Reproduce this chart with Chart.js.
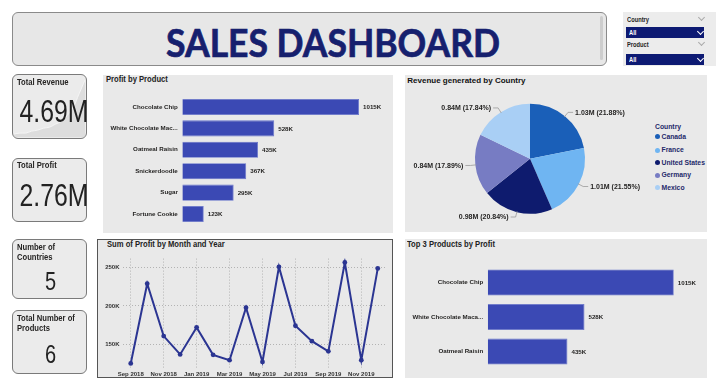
<!DOCTYPE html>
<html>
<head>
<meta charset="utf-8">
<script src="https://cdn.jsdelivr.net/npm/chart.js@4.4.0/dist/chart.umd.min.js"></script>
<style>
body{margin:0;width:720px;height:391px;overflow:hidden;background:#fff;position:relative;font-family:'Liberation Sans',Arial,sans-serif}
.abs{position:absolute;line-height:1;white-space:nowrap}
.nar{font-family:'Liberation Sans',Arial,sans-serif;font-weight:bold;transform:scaleX(0.82);transform-origin:0 0}
.panel{position:absolute;background:#e9e9e9}
.card{position:absolute;left:12px;width:75px;background:#ebebeb;border:1.5px solid #7a7a7a;border-radius:6px;box-sizing:border-box;overflow:hidden}
.ptitle{font-size:9.3px;color:#222}
.ctitle{font-size:9.3px;color:#252423;line-height:10px}
.big{font-family:'Liberation Sans',Arial,sans-serif;color:#222;width:75px;left:12px;text-align:center;transform:scaleX(0.8);transform-origin:50% 0}
.box{position:absolute}
.chev{position:absolute;width:4px;height:4px;border-right:1px solid #aaa;border-bottom:1px solid #aaa;transform:rotate(45deg)}
.bar{position:absolute;left:626px;width:78px;background:#0d1a73}
.leg{position:absolute;left:655px;font-size:6.8px;font-weight:bold;color:#1f2a6b;line-height:1}
.dot{display:inline-block;width:5px;height:5px;border-radius:50%;margin-right:1.5px;vertical-align:-0.5px}
</style>
</head>
<body>
<script>
// data
const products = ['Chocolate Chip', 'White Chocolate Macadamia Nut', 'Oatmeal Raisin', 'Snickerdoodle', 'Sugar', 'Fortune Cookie'];
const profitByProduct = [1015000, 528000, 435000, 367000, 295000, 123000];

const countries = ['Canada', 'France', 'United States', 'Germany', 'Mexico'];
const revenueByCountry = [1026000, 1011000, 977000, 839000, 837000];
const revenueLabels = ['1.03M (21.88%)', '1.01M (21.55%)', '0.98M (20.84%)', '0.84M (17.89%)', '0.84M (17.84%)'];
const countryColors = ['#1a5fb8', '#6fb5f2', '#0e1b6e', '#777cc3', '#a9cff5'];

const months = ['Sep 2018', 'Oct 2018', 'Nov 2018', 'Dec 2018', 'Jan 2019', 'Feb 2019', 'Mar 2019', 'Apr 2019',
  'May 2019', 'Jun 2019', 'Jul 2019', 'Aug 2019', 'Sep 2019', 'Oct 2019', 'Nov 2019', 'Dec 2019'];
const profitByMonth = [124700, 228900, 160500, 136500, 171900, 136000, 129000, 197600,
  126700, 251000, 174000, 153800, 140600, 256700, 129000, 249000];
const profitTicks = [150000, 200000, 250000];

const revenueTrend = [3, 4, 4, 6, 7, 9, 10, 13, 16, 22, 30, 44, 58];

const kpis = [
  {title: 'Total Revenue', value: '4.69M'},
  {title: 'Total Profit', value: '2.76M'},
  {title: 'Number of<br>Countries', value: '5'},
  {title: 'Total Number of<br>Products', value: '6'}
];
</script>

<!-- header -->
<div class="box" style="left:12px;top:12px;width:595px;height:54px;background:#e7e7e7;border:1px solid #8a8a8a;border-radius:6px;box-sizing:border-box"></div>
<div class="box" style="left:600px;top:16px;width:3px;height:44px;background:#cdcdcd;border-radius:2px"></div>
<div class="abs" style="left:12px;width:642px;text-align:center;top:23.4px;font-family:Lato,sans-serif;font-weight:bold;font-size:39px;color:#16206e;-webkit-text-stroke:0.7px #16206e;transform:scaleX(0.91);transform-origin:50% 0">SALES DASHBOARD</div>

<!-- slicers -->
<div class="box" style="left:623px;top:12px;width:93px;height:54px;background:#ececec"></div>
<div class="abs nar" style="left:627px;top:16px;font-size:7px;color:#252423">Country</div>
<div class="chev" style="left:699px;top:15px"></div>
<div class="bar" style="top:27px;height:10.5px"></div>
<div class="abs nar" style="left:629px;top:29.3px;font-size:7px;color:#fff">All</div>
<div class="chev" style="left:698px;top:28.5px;border-color:#fff"></div>
<div class="abs nar" style="left:627px;top:41px;font-size:7px;color:#252423">Product</div>
<div class="chev" style="left:699px;top:40px"></div>
<div class="bar" style="top:53.5px;height:11px"></div>
<div class="abs nar" style="left:629px;top:56.1px;font-size:7px;color:#fff">All</div>
<div class="chev" style="left:698px;top:55.5px;border-color:#fff"></div>

<!-- cards -->
<div class="card" style="top:74px;height:65px"><div style="position:absolute;left:1px;top:1px;width:71px;height:61px"><canvas id="spark"></canvas></div></div>
<div class="card" style="top:158px;height:64px"></div>
<div class="card" style="top:239px;height:60px"></div>
<div class="card" style="top:310px;height:64px"></div>
<div class="abs nar ctitle" id="k0" style="left:16.7px;top:76.8px"></div>
<div class="abs big" id="v0" style="top:96.3px;font-size:31px"></div>
<div class="abs nar ctitle" id="k1" style="left:16.7px;top:160.1px"></div>
<div class="abs big" id="v1" style="top:179.6px;font-size:31px"></div>
<div class="abs nar ctitle" id="k2" style="left:16.7px;top:241.8px"></div>
<div class="abs big" id="v2" style="top:268.8px;font-size:25px;left:13px"></div>
<div class="abs nar ctitle" id="k3" style="left:16.7px;top:312.8px"></div>
<div class="abs big" id="v3" style="top:341.8px;font-size:25px;left:13px"></div>

<!-- panels -->
<div class="panel" style="left:103px;top:75px;width:290px;height:158px"></div>
<div class="panel" style="left:405px;top:75px;width:302px;height:157px"></div>
<div class="panel" style="left:97px;top:239px;width:296px;height:139px;border:1.5px solid #555;box-sizing:border-box"></div>
<div class="panel" style="left:405px;top:239px;width:302px;height:139px"></div>

<div class="abs nar ptitle" style="left:106px;top:75.4px">Profit by Product</div>
<div class="abs ptitle" style="left:407.3px;top:76.5px;font-size:8px;font-weight:bold;color:#111">Revenue generated by Country</div>
<div class="abs nar ptitle" style="left:106.7px;top:240.4px">Sum of Profit by Month and Year</div>
<div class="abs nar ptitle" style="left:407px;top:239.8px">Top 3 Products by Profit</div>

<div class="box" style="left:103px;top:88px;width:290px;height:145px"><canvas id="prodChart"></canvas></div>
<div class="box" style="left:405px;top:256.5px;width:302px;height:120px"><canvas id="topChart"></canvas></div>
<div class="box" style="left:100px;top:252px;width:290px;height:126px"><canvas id="lineChart"></canvas></div>
<div class="box" style="left:405px;top:90px;width:245px;height:140px"><canvas id="pieChart"></canvas></div>
<div id="legend"></div>

<script>
Chart.defaults.animation = false;
Chart.defaults.devicePixelRatio = 1;
Chart.defaults.maintainAspectRatio = false;
Chart.defaults.plugins.legend.display = false;
Chart.defaults.plugins.tooltip.enabled = false;

const tickFont = "'Liberation Sans', Arial, sans-serif";
const fmtK = v => Math.round(v / 1000) + 'K';

// cards
kpis.forEach((k, i) => {
  document.getElementById('k' + i).innerHTML = k.title;
  document.getElementById('v' + i).textContent = k.value;
});

// legend
let lg = '<div class="leg" style="top:124px">Country</div>';
const legY = [137.3, 150.7, 163, 175.7, 188.3];
countries.forEach((c, i) => {
  lg += '<div class="leg" style="top:' + (legY[i] - 3.4) + 'px;left:655px"><span class="dot" style="background:' +
    countryColors[i] + '"></span>' + c + '</div>';
});
document.getElementById('legend').innerHTML = lg;

// small area behind the revenue card
new Chart(document.getElementById('spark'), {
  type: 'line',
  data: {
    labels: revenueTrend.map((v, i) => i),
    datasets: [{data: revenueTrend, fill: 'start', backgroundColor: 'rgba(212,212,212,0.6)',
      borderColor: '#f4f4f4', borderWidth: 1, pointRadius: 0, tension: 0.4}]
  },
  options: {
    layout: {padding: 0},
    scales: {x: {display: false}, y: {display: false, min: 0, max: 62}}
  }
});

// labels at the end of the bars
const barLabels = {
  id: 'barLabels',
  afterDatasetsDraw(chart) {
    const ctx = chart.ctx;
    const ds = chart.data.datasets[0];
    ctx.save();
    ctx.font = 'bold 6.2px ' + tickFont;
    ctx.fillStyle = '#252423';
    ctx.textBaseline = 'middle';
    chart.getDatasetMeta(0).data.forEach((bar, i) => {
      ctx.fillText(fmtK(ds.data[i]), bar.x + 4, bar.y + 0.5);
    });
    ctx.restore();
  }
};

function barChart(id, labels, values, yWidth, xMax, padRight, maxChars) {
  return new Chart(document.getElementById(id), {
    type: 'bar',
    data: {
      labels: labels,
      datasets: [{data: values, backgroundColor: '#3b49b4', borderColor: '#6673cc', borderWidth: 0.8,
        categoryPercentage: 1, barPercentage: 0.75}]
    },
    options: {
      indexAxis: 'y',
      layout: {padding: {right: padRight}},
      scales: {
        x: {display: false, min: 0, max: xMax},
        y: {
          grid: {display: false, drawTicks: false},
          border: {display: false},
          ticks: {
            padding: 4.5, color: '#252423', font: {family: tickFont, size: 6.2, weight: 'bold'},
            callback: function (v, i) {
              const s = labels[i];
              return s.length > maxChars + 3 ? s.slice(0, maxChars) + '...' : s;
            }
          },
          afterFit: s => { s.width = yWidth; }
        }
      }
    },
    plugins: [barLabels]
  });
}

barChart('prodChart', products, profitByProduct, 79.3, 1200000, 1.8, 19);
barChart('topChart', products.slice(0, 3), profitByProduct.slice(0, 3), 82.7, 1150000, 8.5, 20);

// line chart
new Chart(document.getElementById('lineChart'), {
  type: 'line',
  data: {
    labels: months,
    datasets: [{data: profitByMonth, borderColor: '#2b3592', backgroundColor: '#2b3592', borderWidth: 2,
      pointRadius: 2.4, pointBorderWidth: 0, tension: 0}]
  },
  options: {
    layout: {padding: {top: 3, right: 4}},
    scales: {
      x: {
        offset: true,
        grid: {offset: false, drawTicks: false, color: c => c.index % 2 === 0 ? '#b3b3b3' : 'rgba(0,0,0,0)'},
        border: {display: false, dash: [1, 2]},
        ticks: {autoSkip: false, maxRotation: 0, padding: 2, color: '#333',
          font: {family: tickFont, size: 6, weight: 'bold'},
          callback: (v, i) => i % 2 === 0 ? months[i] : ''},
        afterFit: s => { s.height = 9.4; }
      },
      y: {
        min: 118000, max: 261800,
        afterBuildTicks: s => { s.ticks = profitTicks.map(v => ({value: v})); },
        grid: {drawTicks: false, color: '#b3b3b3'},
        border: {display: false, dash: [1, 2]},
        ticks: {padding: 3, color: '#333', font: {family: tickFont, size: 6, weight: 'bold'},
          callback: v => fmtK(v)},
        afterFit: s => { s.width = 22.5; }
      }
    }
  }
});

// pie with leader-line labels
const pieLabels = {
  id: 'pieLabels',
  afterDatasetsDraw(chart) {
    const ctx = chart.ctx;
    ctx.save();
    ctx.font = 'bold 7px ' + tickFont;
    ctx.fillStyle = '#252423';
    ctx.strokeStyle = '#9a9a9a';
    ctx.lineWidth = 0.8;
    ctx.textBaseline = 'middle';
    chart.getDatasetMeta(0).data.forEach((arc, i) => {
      const mid = (arc.startAngle + arc.endAngle) / 2;
      const r = arc.outerRadius;
      const cx = Math.cos(mid), cy = Math.sin(mid);
      const x0 = arc.x + cx * (r - 1), y0 = arc.y + cy * (r - 1);
      const x1 = arc.x + cx * (r + 5), y1 = arc.y + cy * (r + 5);
      const dir = cx >= 0 ? 1 : -1;
      const x2 = x1 + dir * 5;
      ctx.beginPath();
      ctx.moveTo(x0, y0);
      ctx.lineTo(x1, y1);
      ctx.lineTo(x2, y1);
      ctx.stroke();
      ctx.textAlign = dir > 0 ? 'left' : 'right';
      ctx.fillText(revenueLabels[i], x2 + dir * 2, y1 + 0.5);
    });
    ctx.restore();
  }
};

new Chart(document.getElementById('pieChart'), {
  type: 'pie',
  data: {
    labels: countries,
    datasets: [{data: revenueByCountry, backgroundColor: countryColors, borderWidth: 0}]
  },
  options: {
    layout: {padding: {left: 70, right: 65, top: 13.5, bottom: 16}}
  },
  plugins: [pieLabels]
});
</script>
</body>
</html>
